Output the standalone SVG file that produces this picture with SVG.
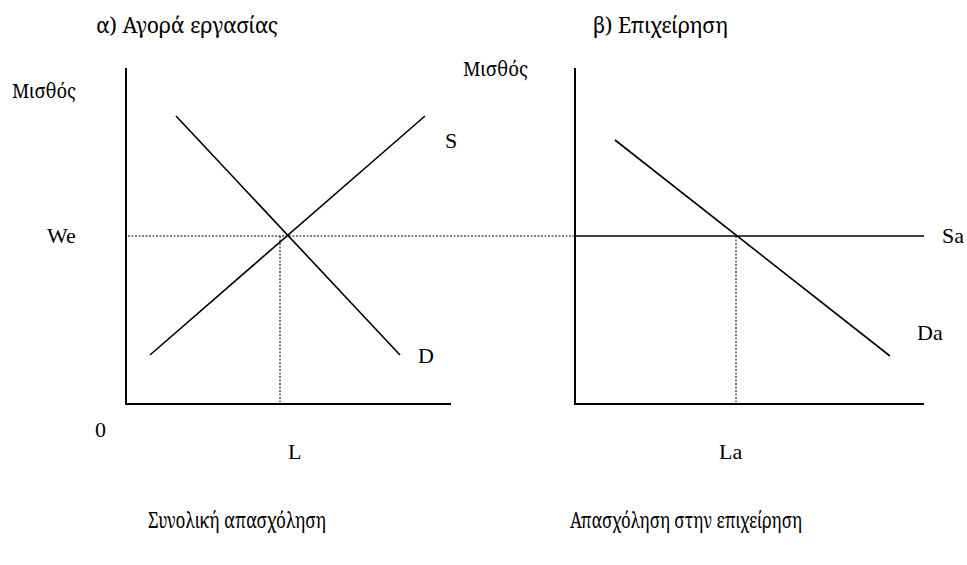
<svg xmlns="http://www.w3.org/2000/svg" width="967" height="565" viewBox="0 0 967 565">
<style>
text{font-family:"Liberation Serif","Noto Serif","DejaVu Serif","Times New Roman",serif;fill:#000;font-size:22px}
.gr{font-family:"Noto Serif","DejaVu Serif","Liberation Serif",serif}
.sm{font-size:19px}
.ax{stroke:#000;stroke-width:2;fill:none}
.ln{stroke:#000;stroke-width:1.6;fill:none}
.dt{stroke:#000;stroke-width:1;stroke-dasharray:2,1.5;fill:none}
</style>
<rect width="967" height="565" fill="#fff"/>
<g id="titles">
<text class="gr" x="96" y="33" font-size="20" textLength="182" lengthAdjust="spacingAndGlyphs">α) Αγορά εργασίας</text>
<text class="gr" x="593" y="33" font-size="20" textLength="135" lengthAdjust="spacingAndGlyphs">β) Επιχείρηση</text>
</g>
<g id="panel-a">
<text class="gr sm" x="12" y="98" textLength="64" lengthAdjust="spacingAndGlyphs">Μισθός</text>
<line class="ax" x1="126" y1="68" x2="126" y2="404"/>
<line class="ax" x1="125" y1="404" x2="451" y2="404"/>
<text x="47" y="243">We</text>
<text x="95" y="437">0</text>
<text x="288" y="459">L</text>
<text class="gr" x="148" y="528" font-size="20" textLength="178" lengthAdjust="spacingAndGlyphs">Συνολική απασχόληση</text>
</g>
<g id="panel-b">
<text class="gr sm" x="463" y="76" textLength="65" lengthAdjust="spacingAndGlyphs">Μισθός</text>
<line class="ax" x1="575" y1="68" x2="575" y2="404"/>
<line class="ax" x1="574" y1="404" x2="924" y2="404"/>
<text x="719" y="459">La</text>
<text class="gr" x="570" y="528" font-size="20" textLength="232" lengthAdjust="spacingAndGlyphs">Απασχόληση στην επιχείρηση</text>
</g>
<g id="connectors">
<line class="dt" x1="128" y1="236" x2="574" y2="236"/>
<line class="dt" x1="280" y1="236" x2="280" y2="402"/>
<line class="dt" x1="736" y1="236" x2="736" y2="402"/>
<line class="ln" x1="176" y1="116" x2="400" y2="355"/>
<line class="ln" x1="150" y1="355" x2="425" y2="116"/>
<line class="ln" x1="575" y1="236" x2="924" y2="236"/>
<line class="ln" x1="615" y1="140" x2="890" y2="356"/>
</g>
<g id="curve-labels">
<text x="445" y="148">S</text>
<text x="418" y="363">D</text>
<text x="942" y="243">Sa</text>
<text x="917" y="340">Da</text>
</g>
</svg>
